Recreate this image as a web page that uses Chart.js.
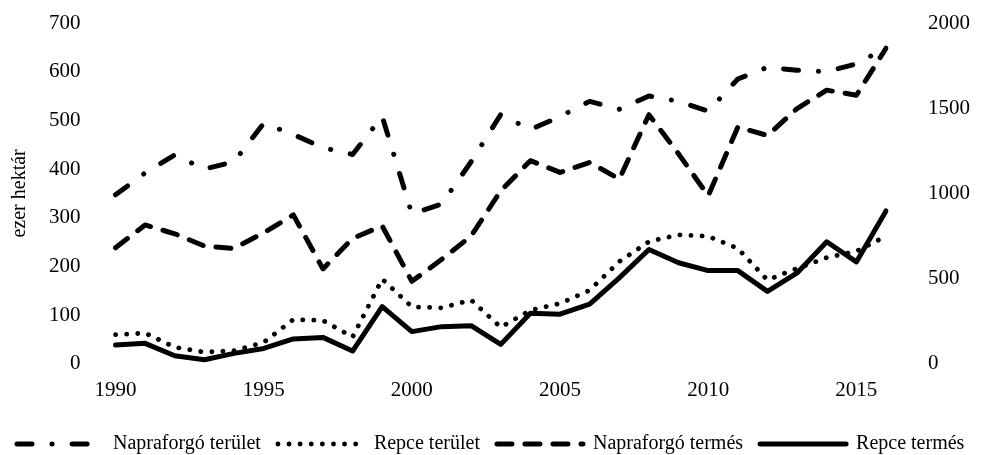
<!DOCTYPE html>
<html lang="hu">
<head>
<meta charset="utf-8">
<title>Napraforgó és repce</title>
<script src="https://cdn.jsdelivr.net/npm/chart.js@4.4.6/dist/chart.umd.min.js"></script>
<style>
    html, body { margin: 0; padding: 0; background: #fff; }
    #doboz { width: 981px; height: 455px; position: relative; }
</style>
</head>
<body>
<div id="doboz"><canvas id="grafikon"></canvas></div>
<script>
const evek = [1990, 1991, 1992, 1993, 1994, 1995, 1996, 1997, 1998, 1999,
    2000, 2001, 2002, 2003, 2004, 2005, 2006, 2007, 2008, 2009,
    2010, 2011, 2012, 2013, 2014, 2015, 2016];

// ezer hektár (bal tengely)
const napraforgoTerulet = [347, 392, 429, 400, 415, 494, 471, 444, 430, 508,
    308, 328, 415, 512, 481, 508, 539, 523, 550, 539,
    519, 585, 609, 603, 600, 616, 649];
const repceTerulet = [60, 63, 34, 24, 27, 44, 91, 89, 55, 174,
    117, 115, 131, 75, 110, 124, 151, 210, 251, 265,
    262, 237, 172, 196, 218, 231, 262];

// termés (jobb tengely)
const napraforgoTermes = [681, 815, 763, 691, 677, 769, 874, 557, 736, 809,
    484, 612, 750, 1015, 1192, 1123, 1182, 1084, 1462, 1232,
    986, 1389, 1340, 1498, 1606, 1576, 1852];
const repceTermes = [110, 120, 47, 24, 61, 90, 146, 155, 75, 336,
    189, 218, 224, 114, 297, 291, 350, 504, 671, 593,
    547, 547, 425, 533, 716, 598, 897];

const xFeliratok = [1990, 1995, 2000, 2005, 2010, 2015];
const balTengelyCimke = 'ezer hektár';

document.addEventListener('DOMContentLoaded', function () {
    const betu = 'Liberation Serif';

    function vonal(cimke, adat, tengely, szaggatas, vastagsag) {
        return {
            label: cimke,
            data: adat,
            yAxisID: tengely,
            borderColor: '#000',
            backgroundColor: '#000',
            borderWidth: vastagsag,
            borderDash: szaggatas,
            borderCapStyle: 'round',
            borderJoinStyle: 'round',
            pointRadius: 0,
            tension: 0,
            fill: false
        };
    }

    // a jelmagyarázat vonalai is szaggatottak legyenek
    function jelmagyarazat(chart) {
        const elemek = Chart.defaults.plugins.legend.labels.generateLabels(chart);
        elemek.forEach(function (elem, i) {
            const ds = chart.data.datasets[i];
            elem.lineDash = ds.borderDash;
            elem.lineWidth = ds.borderWidth;
            elem.lineCap = 'round';
            elem.strokeStyle = '#000';
            elem.fillStyle = '#000';
            elem.pointStyle = 'line';
        });
        return elemek;
    }

    // a tick padding ne tolja lejjebb a rajzterület tetejét
    function nincsFuggolegesPadding(scale) {
        scale.paddingTop = 0;
        scale.paddingBottom = 0;
    }

    const ctx = document.getElementById('grafikon').getContext('2d');
    new Chart(ctx, {
        type: 'line',
        data: {
            labels: evek,
            datasets: [
                vonal('Napraforgó terület', napraforgoTerulet, 'y', [15, 20, 0.1, 20], 5),
                vonal('Repce terület', repceTerulet, 'y', [0.1, 11], 4.8),
                vonal('Napraforgó termés', napraforgoTermes, 'y1', [15, 13], 5),
                vonal('Repce termés', repceTermes, 'y1', [], 5)
            ]
        },
        options: {
            responsive: true,
            maintainAspectRatio: false,
            animation: false,
            layout: {
                padding: { top: 23, right: -31, bottom: -9, left: 0 }
            },
            plugins: {
                tooltip: { enabled: false },
                legend: {
                    position: 'bottom',
                    align: 'start',
                    labels: {
                        color: '#000',
                        font: { family: betu, size: 20 },
                        usePointStyle: true,
                        pointStyle: 'line',
                        pointStyleWidth: 86,
                        boxHeight: 20,
                        padding: 17,
                        generateLabels: jelmagyarazat
                    }
                }
            },
            scales: {
                x: {
                    type: 'category',
                    offset: false,
                    grid: { display: false, drawTicks: false },
                    border: { display: false },
                    ticks: {
                        color: '#000',
                        font: { family: betu, size: 21 },
                        padding: 14,
                        autoSkip: false,
                        maxRotation: 0,
                        callback: function (ertek, i) {
                            const ev = evek[i];
                            return xFeliratok.includes(ev) ? String(ev) : '';
                        }
                    }
                },
                y: {
                    position: 'left',
                    min: 0,
                    max: 700,
                    afterFit: nincsFuggolegesPadding,
                    grid: { display: false, drawTicks: false },
                    border: { display: false },
                    ticks: {
                        stepSize: 100,
                        color: '#000',
                        font: { family: betu, size: 21 },
                        padding: 35,
                        callback: function (v) { return String(v); }
                    },
                    title: {
                        display: true,
                        text: balTengelyCimke,
                        color: '#000',
                        font: { family: betu, size: 20 },
                        padding: { top: 8, bottom: -18 }
                    }
                },
                y1: {
                    position: 'right',
                    min: 0,
                    max: 2000,
                    afterFit: nincsFuggolegesPadding,
                    grid: { display: false, drawTicks: false },
                    border: { display: false },
                    ticks: {
                        stepSize: 500,
                        color: '#000',
                        font: { family: betu, size: 21 },
                        padding: 42,
                        callback: function (v) { return String(v); }
                    }
                }
            }
        }
    });
});
</script>
</body>
</html>
